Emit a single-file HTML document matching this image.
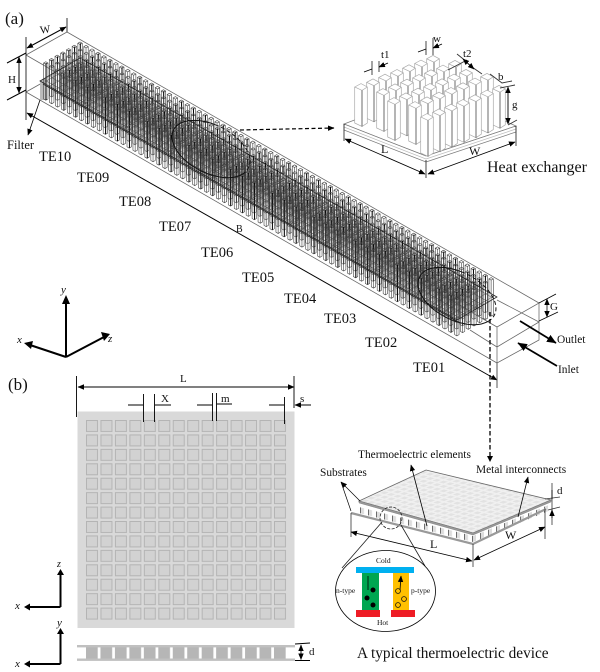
<!DOCTYPE html>
<html><head><meta charset="utf-8"><style>
html,body{margin:0;padding:0;background:#fff}
svg{display:block}
text{font-family:"Liberation Serif",serif;fill:#111}
</style></head><body>
<svg xmlns="http://www.w3.org/2000/svg" width="600" height="672" viewBox="0 0 600 672">
<defs>
<marker id="a" markerWidth="7" markerHeight="6" refX="6" refY="3" orient="auto-start-reverse" markerUnits="userSpaceOnUse"><path d="M0,0.3L6.5,3L0,5.7Z" fill="#000"/></marker>
<marker id="A" markerWidth="10" markerHeight="9" refX="9" refY="4.5" orient="auto" markerUnits="userSpaceOnUse"><path d="M0,0.5L9.5,4.5L0,8.5Z" fill="#000"/></marker>
<g id="p"><path d="M-2.2,-18L0,-19.3L2.2,-18L0,-16.7ZM-2.2,-18V18L0,19.3L2.2,18V-18M0,-16.7V19.3" fill="#fff" fill-opacity=".15" stroke="#444" stroke-width=".6"/></g>
<g id="q"><use href="#p"/><path d="M0.3,-18V19" stroke="#000" stroke-width=".9" fill="none"/></g>
<g id="r"><use href="#q"/><use href="#p" transform="translate(5.96 3.42)"/><use href="#p" transform="translate(11.92 6.84)"/><use href="#q" transform="translate(17.88 10.26)"/><use href="#p" transform="translate(23.84 13.68)"/><use href="#q" transform="translate(29.8 17.1)"/><use href="#p" transform="translate(35.76 20.52)"/></g>
<g id="m"><use href="#r" transform="translate(34.26 -19.74)"/><use href="#r" transform="translate(28.55 -16.45)"/><use href="#r" transform="translate(22.84 -13.16)"/><use href="#r" transform="translate(17.13 -9.87)"/><use href="#r" transform="translate(11.42 -6.58)"/><use href="#r" transform="translate(5.71 -3.29)"/><use href="#r"/></g>
<g id="h"><path d="M-6.3,0L0,-3.4L6.3,0V36L1,39.5L-6.3,36Z" fill="#fff"/><path d="M-6.3,0L0,-3.4L6.3,0L1,3.4ZM-6.3,0V36L1,39.5L6.3,36V0M1,3.4V39.5" fill="#fff" stroke="#aaa" stroke-width=".7"/><path d="M1,3.4V39.5" stroke="#555" stroke-width=".8"/></g>
<g id="hr"><use href="#h" transform="translate(72 -28.2)"/><use href="#h" transform="translate(60 -23.5)"/><use href="#h" transform="translate(48 -18.8)"/><use href="#h" transform="translate(36 -14.1)"/><use href="#h" transform="translate(24 -9.4)"/><use href="#h" transform="translate(12 -4.7)"/><use href="#h"/></g>
<pattern id="sq" x="86" y="420" width="14.46" height="14.43" patternUnits="userSpaceOnUse"><rect x=".5" y=".5" width="11" height="11" fill="#d2d2d2" stroke="#b4b4b4" stroke-width="1"/></pattern>
<pattern id="side" x="86" y="0" width="14.46" height="20" patternUnits="userSpaceOnUse"><rect width="11.7" height="20" fill="#b6b6b6"/></pattern>
<pattern id="mesh" width="6" height="6" patternUnits="userSpaceOnUse" patternTransform="matrix(.993 .57 .952 -.548 45.8 81)"><path d="M0,0H6M0,0V6" stroke="#333" stroke-width="1" fill="none"/></pattern>
<pattern id="pl" width="8" height="20" patternUnits="userSpaceOnUse" patternTransform="matrix(1 .254 0 1 0 0)"><rect width="8" height="20" fill="#fff"/><rect x="0" width="1" height="20" fill="#666"/><rect x="1" width="3" height="20" fill="#ddd"/></pattern>
<pattern id="pr" width="8" height="20" patternUnits="userSpaceOnUse" patternTransform="matrix(1 -.41 0 1 0 0)"><rect width="8" height="20" fill="#fff"/><rect x="0" width="1" height="20" fill="#666"/><rect x="1" width="3" height="20" fill="#ddd"/></pattern>
<pattern id="top" width="7" height="7" patternUnits="userSpaceOnUse" patternTransform="matrix(.95 .25 .93 -.38 0 0)"><rect width="7" height="7" fill="#f0f0f0"/><rect x="1" y="1" width="4.5" height="4.5" fill="#e2e2e2"/></pattern>
</defs>

<!-- channel back lines -->
<g fill="none" stroke="#666" stroke-width=".75">
<path d="M67,32L539,303M26,55L497,327M26,55L67,32M26,92L497,363M26,92L42,83"/>
<path d="M497,300L539,322M470,330L497,347"/>
</g>
<!-- filter -->
<path d="M40,81L46,78V100L40,100Z" fill="#bbb"/>
<!-- pins -->
<g transform="translate(45.8 81)">
<use href="#m"/><use href="#m" transform="translate(41.7 23.9)"/><use href="#m" transform="translate(83.4 47.8)"/><use href="#m" transform="translate(125.1 71.7)"/><use href="#m" transform="translate(166.8 95.6)"/><use href="#m" transform="translate(208.5 119.5)"/><use href="#m" transform="translate(250.2 143.4)"/><use href="#m" transform="translate(291.9 167.3)"/><use href="#m" transform="translate(333.6 191.2)"/><use href="#m" transform="translate(375.3 215.1)"/>
</g>
<!-- dense mesh seen through the pins -->
<path d="M40,81L80,58L497,297L457,320Z" fill="url(#mesh)" fill-opacity=".75"/>
<path d="M55,84L80,70L480,299L457,312Z" fill="url(#mesh)" fill-opacity=".5" transform="translate(0 -8)"/>
<path d="M55,84L80,70L480,299L457,312Z" fill="url(#mesh)" fill-opacity=".5" transform="translate(0 8)"/>
<!-- heater plane lines -->
<g fill="none" stroke="#222" stroke-width=".75">
<path d="M40,81L80,58L497,297L457,320ZM43,84L460,323"/>
<path d="M81.7,104.9L121.7,81.9M123.4,128.8L163.4,105.8M165.1,152.7L205.1,129.7M206.8,176.6L246.8,153.6M248.5,200.5L288.5,177.5M290.2,224.4L330.2,201.4M331.9,248.3L371.9,225.3M373.6,272.2L413.6,249.2M415.3,296.1L455.3,273.1" stroke="#444" stroke-width=".6"/>
</g>
<!-- channel end box -->
<g fill="none" stroke="#666" stroke-width=".75">
<path d="M497,327L539,303V340L497,363ZM497,347L539,322"/>
</g>
<!-- ellipses -->
<g fill="none" stroke="#111" stroke-width="1">
<g transform="translate(211 149) rotate(27)"><path d="M39.5,8.2A42,24 0 1 1 -7.3,-23.6"/><path d="M-7.3,-23.6A42,24 0 0 1 39.5,8.2" stroke-dasharray="4 2.5"/></g>
<g transform="translate(457 296) rotate(27)"><path d="M39.5,8.2A42,24 0 1 1 -7.3,-23.6"/><path d="M-7.3,-23.6A42,24 0 0 1 39.5,8.2" stroke-dasharray="4 2.5"/></g>
</g>
<!-- dashed connectors -->
<path d="M240,130L334,128" fill="none" stroke="#000" stroke-width="1.2" stroke-dasharray="4 2.5" marker-end="url(#a)"/>
<path d="M490,312V460" fill="none" stroke="#000" stroke-width="1.3" stroke-dasharray="4.5 2.5"/>
<path d="M487,456L490,462L493,456Z" fill="#000"/>

<!-- channel dimensions -->
<g fill="none" stroke="#000" stroke-width="1">
<path d="M26,37V120M67,18V32" stroke="#333"/>
<path d="M27,48L66,27" marker-start="url(#a)" marker-end="url(#a)"/>
<path d="M7,63L26,53M7,100L26,90"/>
<path d="M19,57V93" marker-start="url(#a)" marker-end="url(#a)"/>
<path d="M27,113L497,380" marker-start="url(#a)" marker-end="url(#a)"/>
<path d="M497,363V388" stroke="#555"/>
<path d="M40,100L28,135" stroke-width=".8" marker-end="url(#a)"/>
<path d="M539,303L556,294M539,321L558,312" stroke-width=".8"/>
<path d="M547,299V317" marker-start="url(#a)" marker-end="url(#a)" stroke-width=".8"/>
<path d="M520,321L556,343" stroke-width="1.8" marker-end="url(#A)"/>
<path d="M557,366L518,343" stroke-width="1.8" marker-end="url(#A)"/>
</g>
<text x="5" y="24" font-size="17">(a)</text>
<text x="40" y="33" font-size="11" transform="rotate(-8 46 30)">W</text>
<text x="8" y="83" font-size="11">H</text>
<text x="7" y="149" font-size="12.5">Filter</text>
<text x="236" y="232" font-size="10">B</text>
<text x="550" y="310" font-size="11">G</text>
<text x="557" y="343" font-size="11.4">Outlet</text>
<text x="558" y="373" font-size="11.4">Inlet</text>
<g font-size="14.5">
<text x="39" y="161">TE10</text><text x="77" y="182">TE09</text><text x="119" y="206">TE08</text><text x="159" y="231">TE07</text><text x="201" y="257">TE06</text><text x="242" y="282">TE05</text><text x="284" y="303">TE04</text><text x="324" y="323">TE03</text><text x="365" y="347">TE02</text><text x="413" y="372">TE01</text>
</g>

<!-- heat exchanger -->
<path d="M344,124L434,90L516,126L426,156Z" fill="#fff" stroke="#777" stroke-width=".7"/>
<path d="M344,124V130L426,162L516,132V126L426,156Z" fill="#fff" stroke="#777" stroke-width=".7"/>
<path d="M344,127L426,159L516,129" fill="none" stroke="#bbb" stroke-width=".7"/>
<use href="#hr" transform="translate(361 87)"/>
<use href="#hr" transform="translate(383 92)"/>
<use href="#hr" transform="translate(394 101)"/>
<use href="#hr" transform="translate(415 105)"/>
<use href="#hr" transform="translate(427 117)"/>
<g fill="none" stroke="#000" stroke-width=".9">
<path d="M344,124V141M516,126V146M426,160V178" stroke="#333"/>
<path d="M345,139L425,174" marker-start="url(#a)" marker-end="url(#a)"/>
<path d="M428,174L515,142" marker-start="url(#a)" marker-end="url(#a)"/>
<path d="M372,61V75M379,61V72" stroke="#333"/>
<path d="M364,72L372,69M388,63L379,67" marker-end="url(#a)"/>
<path d="M426,41V55M433,38V55" stroke="#333"/>
<path d="M418,52L426,49M442,44L433,48" marker-end="url(#a)"/>
<path d="M448,70L467,60M457,54L467,62M472,67L482,74" stroke="#333"/>
<path d="M463,59L474,69" marker-start="url(#a)" marker-end="url(#a)"/>
<path d="M490,74L502,83L512,81" stroke="#333"/>
<path d="M508,87V124" marker-start="url(#a)" marker-end="url(#a)"/>
<path d="M500,88L515,85M508,125L517,120" stroke="#333"/>
</g>
<g font-size="11">
<text x="381" y="58">t1</text><text x="433" y="42">w</text><text x="463" y="57">t2</text><text x="498" y="80">b</text><text x="512" y="108">g</text><text x="381" y="153" font-size="12">L</text><text x="469" y="155" font-size="12">W</text>
</g>
<text x="487" y="172" font-size="16">Heat exchanger</text>

<!-- axes -->
<g fill="none" stroke="#000" stroke-width="2">
<path d="M66,357V301M66,357L30,345M66,357L104,337"/>
<path d="M60.5,607V572M60.5,607H27"/>
<path d="M60.5,664V631M60.5,664H27"/>
</g>
<g fill="#000">
<path d="M62,304L66,295L70,304ZM33,341L24,343L31,349ZM101,332L110,334L104,341Z"/>
<path d="M57,575L60.5,569L64,575ZM30,603.5L24,607L30,610.5Z"/>
<path d="M57,634L60.5,628L64,634ZM30,660.5L24,664L30,667.5Z"/>
</g>
<g font-size="11" font-style="italic">
<text x="61" y="293">y</text><text x="17" y="343">x</text><text x="108" y="342">z</text>
<text x="57" y="567" font-size="10">z</text><text x="15" y="609">x</text>
<text x="57" y="626">y</text><text x="15" y="667">x</text>
</g>

<!-- (b) -->
<text x="8" y="390" font-size="17">(b)</text>
<rect x="77.5" y="411.5" width="217" height="216.5" fill="#d9d9d9"/>
<rect x="86" y="420" width="202" height="201" fill="url(#sq)"/>
<g fill="none" stroke="#000" stroke-width=".9">
<path d="M76.5,376V417M294,376V408"/>
<path d="M78,387H294" marker-start="url(#a)" marker-end="url(#a)"/>
<path d="M143.5,394V422M154.5,394V422M212.5,393V421M216.5,393V421M284.5,397V424"/>
<path d="M128,405H143M171,405H155M197,405H212M232,404H217M269,405H284M311,405H295" marker-end="url(#a)"/>
</g>
<text x="180" y="382" font-size="11">L</text>
<text x="161" y="402" font-size="11">X</text>
<text x="221" y="402" font-size="11">m</text>
<text x="300" y="402" font-size="11">s</text>
<rect x="77" y="645" width="218" height="16" fill="#fff"/>
<rect x="86" y="647" width="202" height="12" fill="url(#side)"/>
<rect x="77" y="645" width="218" height="2.4" fill="#c0c0c0"/>
<rect x="77" y="658.5" width="218" height="2.4" fill="#c0c0c0"/>
<g fill="none" stroke="#000" stroke-width=".9">
<path d="M295,644L310,643M295,660.5H310"/>
<path d="M301,645V659.5" marker-start="url(#a)" marker-end="url(#a)"/>
</g>
<text x="309" y="655" font-size="11">d</text>

<!-- TE device -->
<path d="M359,506L473,535L551,503V510L473,541L351,511Z" fill="#fff"/>
<path d="M359,507L473,536V542L359,513Z" fill="url(#pl)"/>
<path d="M473,536L551,504V510L473,542Z" fill="url(#pr)"/>
<path d="M351,513L473,544L546,509" fill="none" stroke="#999" stroke-width="2.2"/>
<path d="M426,470L551,500L473,533L359,501Z" fill="url(#top)" stroke="#666" stroke-width=".8"/>
<path d="M359,501L473,533L551,500V502L473,535L359,503Z" fill="#999" stroke="#777" stroke-width=".4"/>
<g fill="none" stroke="#000" stroke-width=".8">
<path d="M351,513V537M473,544V567M545,509V539" stroke="#333"/>
<path d="M351,532L472,561" marker-start="url(#a)" marker-end="url(#a)"/>
<path d="M474,560L545,527" marker-start="url(#a)" marker-end="url(#a)"/>
<path d="M341,482L360,501M341,482L351,511" stroke-width=".7" marker-start="url(#a)"/>
<path d="M411,465L427,526" marker-start="url(#a)"/>
<path d="M528,477L518,517" marker-start="url(#a)"/>
<path d="M552,483V525" stroke="#333"/>
<path d="M545,499L560,497M548,510L560,507" stroke="#333"/>
<path d="M552,490V499M552,518V510" marker-end="url(#a)"/>
<circle cx="391" cy="518" r="11" stroke-dasharray="3 1.5" stroke="#222"/>
<path d="M382,522L342,568M401,525L425,566" stroke="#222"/>
<ellipse cx="385.5" cy="591" rx="50" ry="40.5"/>
</g>
<g font-size="11.4">
<text x="358" y="458">Thermoelectric elements</text>
<text x="476" y="473">Metal interconnects</text>
<text x="320" y="476">Substrates</text>
<text x="430" y="548" font-size="12">L</text>
<text x="505" y="539" font-size="12">W</text>
<text x="557" y="494" font-size="11">d</text>
</g>
<rect x="356" y="567" width="58" height="6" fill="#00b0f0"/>
<rect x="362" y="573" width="17" height="37" fill="#00a651"/>
<rect x="393" y="573" width="16" height="37" fill="#ffc000"/>
<rect x="356" y="610" width="24" height="7" fill="#ee1c25"/>
<rect x="391" y="610" width="24" height="7" fill="#ee1c25"/>
<g fill="#000"><circle cx="373" cy="590" r="2.5"/><circle cx="367" cy="598" r="2.5"/><circle cx="373" cy="605" r="2.5"/></g>
<g fill="none" stroke="#111" stroke-width=".8"><circle cx="398" cy="591" r="2.4"/><circle cx="404" cy="599" r="2.4"/><circle cx="398" cy="605" r="2.4"/></g>
<path d="M368,590V576M400,590L401,576" stroke="#000" stroke-width=".8" fill="none" marker-end="url(#a)"/>
<g font-size="7.5">
<text x="376" y="563">Cold</text><text x="377" y="625">Hot</text><text x="336" y="593">n-type</text><text x="411" y="593">p-type</text>
</g>
<text x="357" y="658" font-size="15.3">A typical thermoelectric device</text>
</svg>
</body></html>
